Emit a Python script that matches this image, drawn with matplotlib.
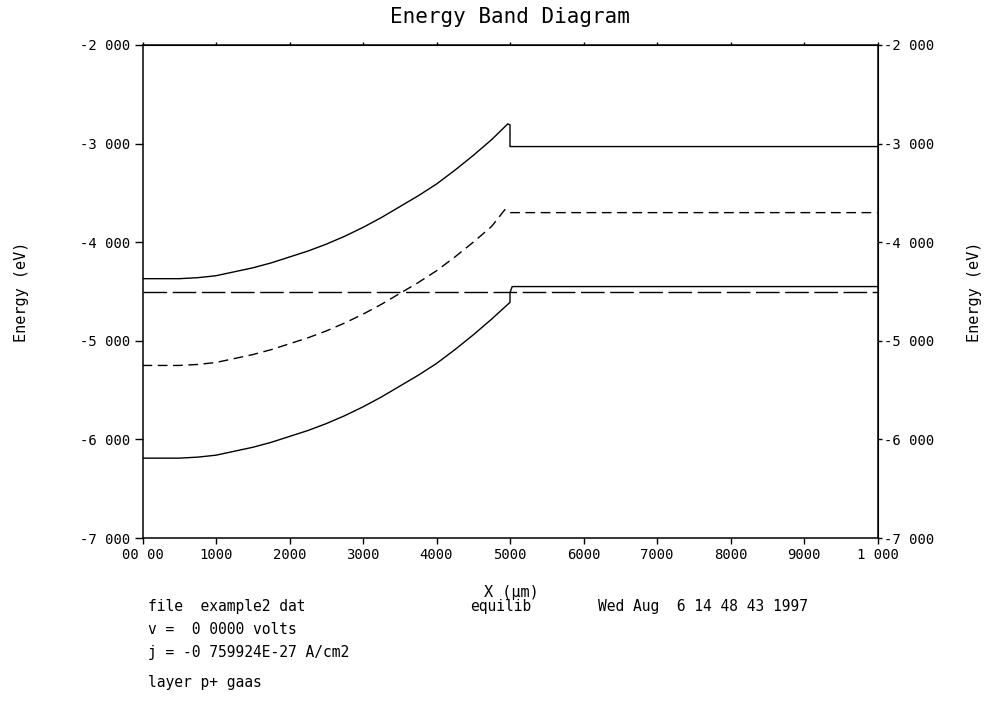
import matplotlib
matplotlib.use('Agg')
import matplotlib.pyplot as plt

# band edges (x in um, energy in eV)
x_ec = [0.0, 0.025, 0.05, 0.075, 0.1, 0.125, 0.15, 0.175, 0.2, 0.225, 0.25, 0.275,
        0.3, 0.325, 0.35, 0.375, 0.4, 0.425, 0.45, 0.475, 0.497, 0.5, 0.5, 1.0]
ec = [-4.37, -4.37, -4.37, -4.36, -4.34, -4.30, -4.26, -4.21, -4.15, -4.09, -4.02, -3.94,
      -3.85, -3.75, -3.64, -3.53, -3.41, -3.27, -3.12, -2.96, -2.80, -2.81, -3.03, -3.03]

x_ei = [0.0, 0.025, 0.05, 0.075, 0.1, 0.125, 0.15, 0.175, 0.2, 0.225, 0.25, 0.275,
        0.3, 0.325, 0.35, 0.375, 0.4, 0.425, 0.45, 0.475, 0.493, 0.5, 1.0]
ei = [-5.25, -5.25, -5.25, -5.24, -5.22, -5.18, -5.14, -5.09, -5.03, -4.97, -4.90, -4.82,
      -4.73, -4.63, -4.52, -4.41, -4.29, -4.15, -4.00, -3.84, -3.67, -3.70, -3.70]

x_ev = [0.0, 0.025, 0.05, 0.075, 0.1, 0.125, 0.15, 0.175, 0.2, 0.225, 0.25, 0.275,
        0.3, 0.325, 0.35, 0.375, 0.4, 0.425, 0.45, 0.475, 0.5, 0.5, 0.503, 1.0]
ev = [-6.19, -6.19, -6.19, -6.18, -6.16, -6.12, -6.08, -6.03, -5.97, -5.91, -5.84, -5.76,
      -5.67, -5.57, -5.46, -5.35, -5.23, -5.09, -4.94, -4.78, -4.61, -4.51, -4.45, -4.45]

x_ef = [0.0, 1.0]
ef = [-4.51, -4.51]

xticks = [0.0, 0.1, 0.2, 0.3, 0.4, 0.5, 0.6, 0.7, 0.8, 0.9, 1.0]
xlabels = ['00 00', '1000', '2000', '3000', '4000', '5000', '6000', '7000', '8000', '9000', '1 000']
yticks = [-7, -6, -5, -4, -3, -2]
ylabels = ['-7 000', '-6 000', '-5 000', '-4 000', '-3 000', '-2 000']

info = ['file  example2 dat', 'equilib', 'Wed Aug  6 14 48 43 1997',
        'v =  0 0000 volts', 'j = -0 759924E-27 A/cm2', 'layer p+ gaas']

plt.rcParams['font.family'] = ['DejaVu Sans Mono']

W, H = 994, 709
fig = plt.figure(figsize=(W/100, H/100), dpi=100)
ax = fig.add_axes([142.5/W, 1-538/H, 735/W, 493/H])

ax.plot(x_ec, ec, color='k', lw=1.0)
ax.plot(x_ei, ei, color='k', lw=1.0, dashes=(7, 4))
ax.plot(x_ev, ev, color='k', lw=1.0)
ax.plot(x_ef, ef, color='k', lw=1.0, dashes=(17, 4))

ax.set_xlim(0, 1)
ax.set_ylim(-7, -2)
for s in ax.spines.values():
    s.set_linewidth(1.1)

ax.set_xticks(xticks)
ax.set_xticklabels(xlabels)
ax.set_yticks(yticks)
ax.set_yticklabels(ylabels)
ax.tick_params(axis='x', direction='out', length=4, width=1, labelsize=10, pad=3)
ax.tick_params(axis='y', direction='out', length=6, width=1, labelsize=10, pad=3)

top = ax.secondary_xaxis('top')
top.set_xticks(xticks)
top.set_xticklabels([])
top.tick_params(direction='out', length=2.5, width=1)

right = ax.secondary_yaxis('right')
right.set_yticks(yticks)
right.set_yticklabels(ylabels)
right.tick_params(direction='out', length=3, width=1, labelsize=10, pad=2)

fig.text(510/W, 1-17/H, 'Energy Band Diagram', ha='center', va='center', fontsize=15)
fig.text(511/W, 1-592/H, 'X (\u03bcm)', ha='center', va='center', fontsize=11)
fig.text(22/W, 1-292/H, 'Energy (eV)', ha='center', va='center', rotation=90, fontsize=11)
fig.text(975/W, 1-292/H, 'Energy (eV)', ha='center', va='center', rotation=90, fontsize=11)

fig.text(148/W, 1-607/H, info[0], ha='left', va='center', fontsize=10.5)
fig.text(470/W, 1-607/H, info[1], ha='left', va='center', fontsize=10.5)
fig.text(598/W, 1-607/H, info[2], ha='left', va='center', fontsize=10.5)
fig.text(148/W, 1-630/H, info[3], ha='left', va='center', fontsize=10.5)
fig.text(148/W, 1-652/H, info[4], ha='left', va='center', fontsize=10.5)
fig.text(148/W, 1-683/H, info[5], ha='left', va='center', fontsize=10.5)

fig.savefig('out.png', dpi=100)
